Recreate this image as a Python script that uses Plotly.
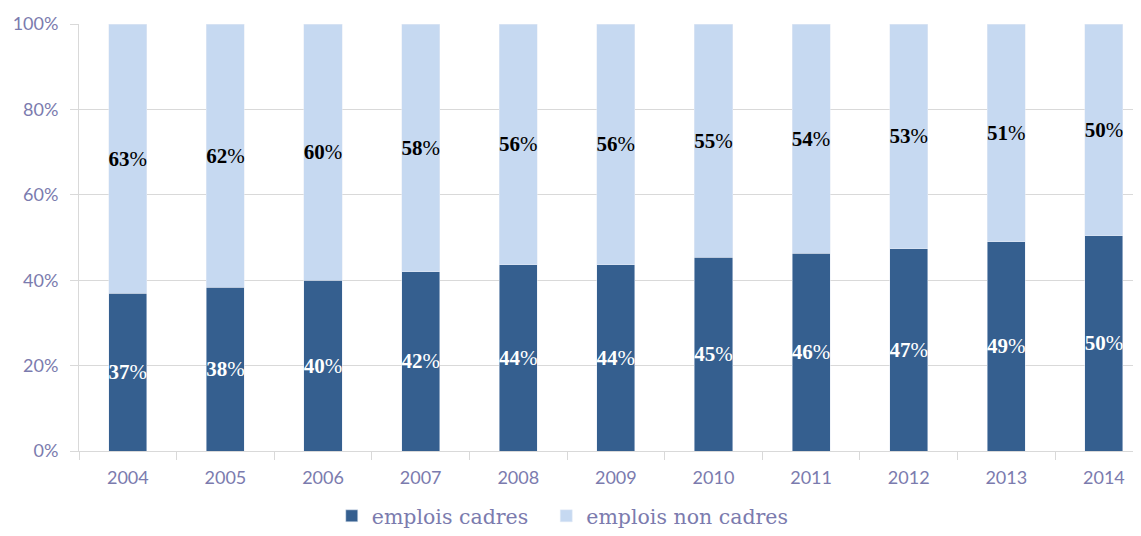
import plotly.graph_objects as go

years = ["2004", "2005", "2006", "2007", "2008", "2009", "2010", "2011", "2012", "2013", "2014"]
cadres = [37.0, 38.4, 40.0, 42.0, 43.6, 43.6, 45.4, 46.3, 47.4, 49.0, 50.4]
non_cadres = [63.0, 61.6, 60.0, 58.0, 56.4, 56.4, 54.6, 53.7, 52.6, 51.0, 49.6]
label_cadres = [37, 38, 40, 42, 44, 44, 45, 46, 47, 49, 50]
label_non_cadres = [63, 62, 60, 58, 56, 56, 55, 54, 53, 51, 50]
series_names = ["emplois cadres", "emplois non cadres"]

dark = "#355f8f"
light = "#c6d9f1"
axis_color = "#7b7bae"

fig = go.Figure()
fig.add_trace(go.Bar(
    x=years, y=cadres, name=series_names[0] + "\u00a0\u00a0", marker_color=dark,
    text=[f"<b>{v}</b>%" for v in label_cadres], textposition="inside",
    insidetextanchor="middle", constraintext="none", textangle=0,
    textfont=dict(family="Liberation Serif", size=21, color="white"),
))
fig.add_trace(go.Bar(
    x=years, y=non_cadres, name=series_names[1], marker_color=light,
    text=[f"<b>{v}</b>%" for v in label_non_cadres], textposition="inside",
    insidetextanchor="middle", constraintext="none", textangle=0,
    textfont=dict(family="Liberation Serif", size=21, color="black"),
))

fig.update_layout(
    barmode="stack", bargap=0.61,
    width=1133, height=528,
    margin=dict(l=71, r=0, t=16, b=85),
    plot_bgcolor="white", paper_bgcolor="white",
    showlegend=True,
    legend=dict(orientation="h", x=0.238, xanchor="left", y=-0.199, yanchor="bottom",
                font=dict(family="DejaVu Serif", size=20.5, color=axis_color),
                itemwidth=30, traceorder="normal"),
    yaxis=dict(range=[0, 100], tickvals=[0, 20, 40, 60, 80, 100],
               ticktext=["0%", "20%", "40%", "60%", "80%", "100%"],
               showgrid=True, gridcolor="#d9d9d9", gridwidth=1,
               ticks="outside", ticklen=8, tickcolor="#d9d9d9", ticklabelstandoff=8,
               tickfont=dict(family="Lato", size=18, color=axis_color),
               zeroline=False, showline=True, linecolor="#d9d9d9", automargin=False),
    xaxis=dict(range=[-0.5, 10.38], tickson="boundaries", ticks="outside", ticklen=8,
               tickcolor="#d9d9d9", showline=True, linecolor="#d9d9d9", automargin=False,
               ticklabelstandoff=10,
               tickfont=dict(family="Lato", size=18, color=axis_color)),
)

fig.write_html("out.html")
